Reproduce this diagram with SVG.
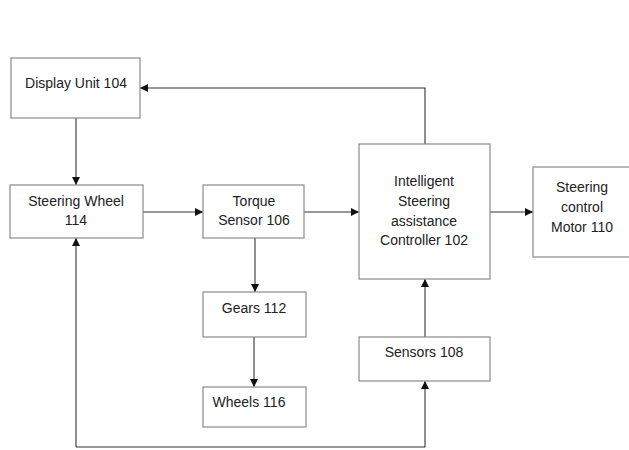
<svg xmlns="http://www.w3.org/2000/svg" width="629" height="450" viewBox="0 0 629 450">
<style>
.box{fill:#fff;stroke:#8a8a8a;stroke-width:1.2}
.t{font-family:"Liberation Sans",Arial,sans-serif;font-size:14px;fill:#222;text-anchor:middle}
.c{fill:none;stroke:#333;stroke-width:1.1}
</style>
<defs>
<marker id="a" viewBox="0 0 10 10" refX="10" refY="5" markerWidth="8" markerHeight="8" orient="auto" markerUnits="userSpaceOnUse">
<path d="M0,0L10,5L0,10z" fill="#111"/>
</marker>
</defs>
<rect width="629" height="450" fill="#fff"/>
<g id="connectors">
<path class="c" d="M76,118V185" marker-end="url(#a)"/>
<path class="c" d="M143,212H203" marker-end="url(#a)"/>
<path class="c" d="M304,212H359" marker-end="url(#a)"/>
<path class="c" d="M490,212H533" marker-end="url(#a)"/>
<path class="c" d="M425,144V88H140" marker-end="url(#a)"/>
<path class="c" d="M255,238V292" marker-end="url(#a)"/>
<path class="c" d="M254,337V387" marker-end="url(#a)"/>
<path class="c" d="M425,337V279" marker-end="url(#a)"/>
<path class="c" d="M76,447V238" marker-end="url(#a)"/>
<path class="c" d="M76,447H425V381" marker-end="url(#a)"/>
</g>
<g id="display"><rect class="box" x="11" y="58" width="129" height="60"/><text class="t" x="76" y="88">Display Unit 104</text></g>
<g id="wheel"><rect class="box" x="10" y="185" width="133" height="53"/><text class="t" x="76" y="206">Steering Wheel</text><text class="t" x="76" y="225">114</text></g>
<g id="torque"><rect class="box" x="203" y="185" width="101" height="53"/><text class="t" x="254" y="206">Torque</text><text class="t" x="254" y="225">Sensor 106</text></g>
<g id="controller"><rect class="box" x="359" y="144" width="131" height="135"/><text class="t" x="424" y="186">Intelligent</text><text class="t" x="424" y="206">Steering</text><text class="t" x="424" y="226">assistance</text><text class="t" x="424" y="245">Controller 102</text></g>
<g id="motor"><rect class="box" x="533" y="167" width="100" height="90"/><text class="t" x="582" y="192">Steering</text><text class="t" x="582" y="212">control</text><text class="t" x="582" y="232">Motor 110</text></g>
<g id="gears"><rect class="box" x="203" y="292" width="103" height="45"/><text class="t" x="254" y="313">Gears 112</text></g>
<g id="wheels"><rect class="box" x="203" y="387" width="103" height="40"/><text class="t" x="249" y="407">Wheels 116</text></g>
<g id="sensors"><rect class="box" x="359" y="337" width="131" height="44"/><text class="t" x="424" y="357">Sensors 108</text></g>
</svg>
